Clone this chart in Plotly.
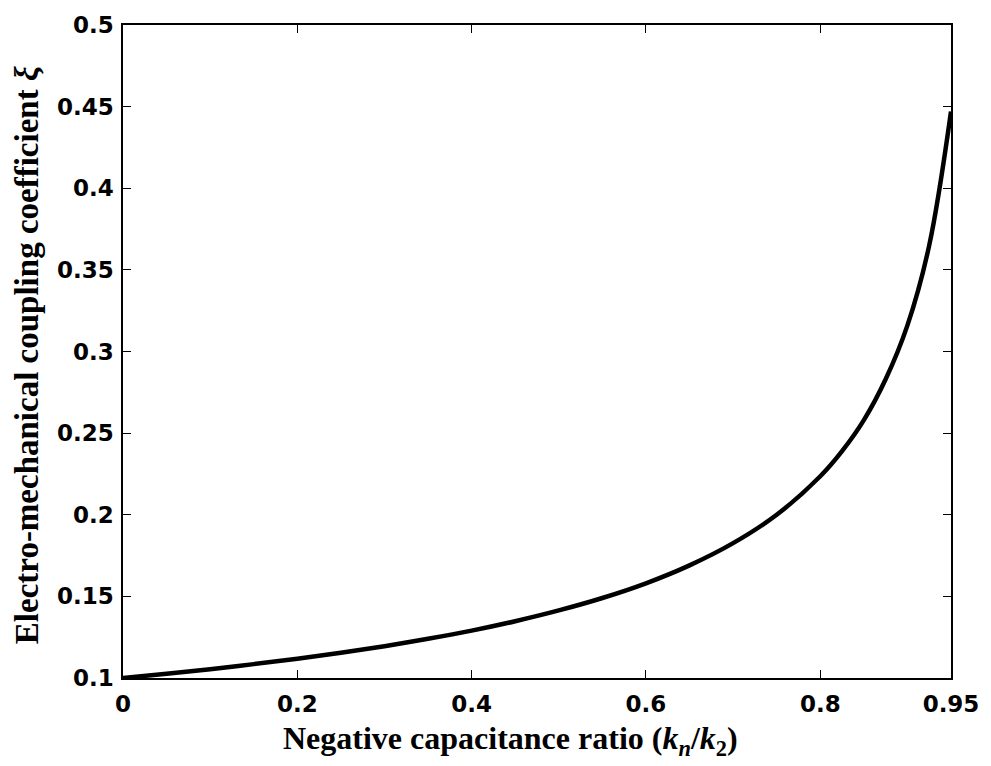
import plotly.graph_objects as go

ratio = [0.0, 0.05, 0.1, 0.15, 0.2, 0.25, 0.3, 0.35, 0.4, 0.45, 0.5, 0.55, 0.6,
         0.65, 0.7, 0.75, 0.8, 0.825, 0.85, 0.875, 0.9, 0.925, 0.95]
xi = [0.100, 0.1026, 0.1054, 0.1085, 0.1118, 0.1155, 0.1195, 0.1240, 0.1290,
      0.1348, 0.1414, 0.1490, 0.1580, 0.1690, 0.1826, 0.2000, 0.2236, 0.2390,
      0.2580, 0.2830, 0.3160, 0.3650, 0.4470]

x_ticks = [0, 0.2, 0.4, 0.6, 0.8, 0.95]
x_tick_labels = ["0", "0.2", "0.4", "0.6", "0.8", "0.95"]
y_ticks = [0.1, 0.15, 0.2, 0.25, 0.3, 0.35, 0.4, 0.45, 0.5]
y_tick_labels = ["0.1", "0.15", "0.2", "0.25", "0.3", "0.35", "0.4", "0.45", "0.5"]

x_title = "Negative capacitance ratio (<i>k<sub>n</sub></i>/<i>k</i><sub>2</sub>)"
y_title = "Electro-mechanical coupling coefficient <i>ξ</i>"

fig = go.Figure()
fig.add_trace(go.Scatter(x=ratio, y=xi, mode="lines",
                         line=dict(color="black", width=4.5, shape="spline"),
                         showlegend=False))

tickfont = dict(family="DejaVu Sans", size=23, color="black", weight="bold")

fig.update_layout(
    width=991, height=766,
    margin=dict(l=123, r=37, t=22, b=88),
    paper_bgcolor="white", plot_bgcolor="white",
    xaxis=dict(range=[0, 0.95], tickvals=x_ticks, ticktext=x_tick_labels,
               ticks="inside", ticklen=8, tickwidth=1, tickcolor="black",
               showline=True, linecolor="black", linewidth=1.5, mirror="ticks",
               showgrid=False, zeroline=False, tickfont=tickfont,
               ticklabelstandoff=5),
    yaxis=dict(range=[0.1, 0.5], tickvals=y_ticks, ticktext=y_tick_labels,
               ticks="inside", ticklen=8, tickwidth=1, tickcolor="black",
               showline=True, linecolor="black", linewidth=1.5, mirror="ticks",
               showgrid=False, zeroline=False, tickfont=tickfont,
               ticklabelstandoff=3),
    annotations=[
        dict(text=x_title, xref="paper", yref="paper", x=0.468, y=-0.096,
             xanchor="center", yanchor="middle", showarrow=False,
             font=dict(family="Liberation Serif", size=32, color="black", weight="bold")),
        dict(text=y_title, xref="paper", yref="paper", x=-0.1167, y=0.495,
             xanchor="center", yanchor="middle", showarrow=False, textangle=-90,
             font=dict(family="Liberation Serif", size=33, color="black", weight="bold")),
    ],
)

fig.write_html("out.html")
